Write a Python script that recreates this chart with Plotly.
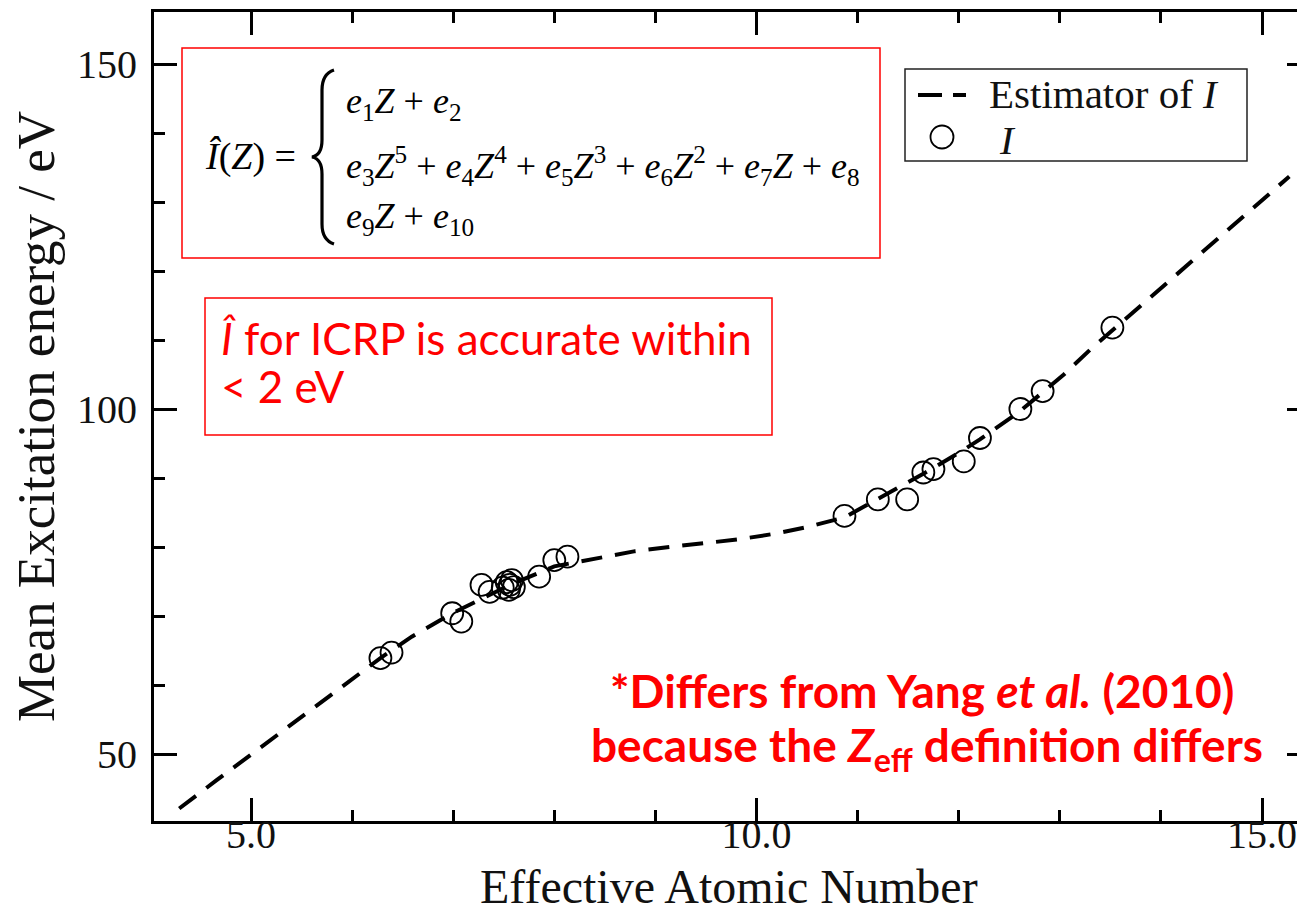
import plotly.graph_objects as go

# ---------------- data ----------------
est_z = [4.29, 4.66, 6.28, 6.59, 6.99, 7.56, 8.00, 8.37, 8.80, 9.14, 9.49, 9.82,
         10.17, 10.50, 10.87, 11.20, 11.65, 12.04, 12.21, 12.60, 12.83, 13.04,
         13.30, 13.52, 15.27]
est_i = [42.1, 46.2, 63.9, 67.0, 70.4, 74.5, 77.2, 78.2, 79.4, 80.0, 80.6, 81.1,
         81.9, 82.9, 84.3, 87.0, 90.6, 94.0, 95.6, 99.6, 102.4, 105.0,
         108.6, 111.4, 133.7]

obs_z = [6.28, 6.39, 6.99, 7.08, 7.28, 7.36, 7.49, 7.53, 7.56, 7.58, 7.60, 7.55,
         7.85, 8.00, 8.13, 10.87, 11.20, 11.49, 11.65, 11.75, 12.05, 12.21,
         12.61, 12.83, 13.52]
obs_i = [63.9, 64.7, 70.4, 69.2, 74.5, 73.5, 74.1, 74.9, 74.5, 75.2, 74.2, 73.8,
         75.7, 78.1, 78.6, 84.5, 86.9, 86.9, 90.8, 91.3, 92.4, 95.8,
         100.0, 102.6, 111.8]

x_ticks = [5, 10, 15]
x_tick_text = ["5.0", "10.0", "15.0"]
y_ticks = [50, 100, 150]
y_tick_text = ["50", "100", "150"]

# ---------------- layout geometry ----------------
W_FIG, H_FIG = 1297, 914
L, R, T, B = 154, 1297, 12, 821          # plot area in pixels
PW, PH = R - L, B - T

def px(x):
    return (x - L) / PW

def py(y):
    return (B - y) / PH

SERIF = "Liberation Serif"
SANS = "Lato"
RED = "#ff0000"

fig = go.Figure()

fig.add_trace(go.Scatter(
    x=est_z, y=est_i, mode="lines", name="Estimator of I",
    line=dict(color="black", width=4, dash="21px,13px"),
    showlegend=False, hoverinfo="skip"))

fig.add_trace(go.Scatter(
    x=obs_z, y=obs_i, mode="markers", name="I",
    marker=dict(symbol="circle-open", size=22, color="black",
                line=dict(width=1.8, color="black")),
    showlegend=False))

# empty trace so that the right-hand y axis (ticks only) is drawn
fig.add_trace(go.Scatter(x=[], y=[], yaxis="y2", showlegend=False))

axis_font = dict(family=SERIF, size=40, color="#111")

fig.update_layout(
    width=W_FIG, height=H_FIG,
    margin=dict(l=L, r=W_FIG - R, t=T, b=H_FIG - B, pad=0, autoexpand=False),
    paper_bgcolor="white", plot_bgcolor="white",
    xaxis=dict(range=[4.0406, 15.346], showgrid=False, zeroline=False,
               automargin=False,
               showline=True, linewidth=3, linecolor="black", mirror="ticks",
               ticks="inside", ticklen=23, tickwidth=3, tickcolor="black",
               tickvals=x_ticks, ticktext=x_tick_text, tickfont=axis_font,
               ticklabelstandoff=-24, ticklabeloverflow="allow",
               minor=dict(dtick=1, tick0=0, ticks="inside", ticklen=11,
                          tickwidth=3, tickcolor="black", showgrid=False)),
    yaxis=dict(range=[40.29, 157.54], showgrid=False, zeroline=False,
               automargin=False,
               showline=True, linewidth=3, linecolor="black",
               ticks="inside", ticklen=23, tickwidth=3, tickcolor="black",
               tickvals=y_ticks, ticktext=y_tick_text, tickfont=axis_font,
               ticklabelstandoff=6,
               minor=dict(dtick=10, tick0=0, ticks="inside", ticklen=11,
                          tickwidth=3, tickcolor="black", showgrid=False),
               title=dict(text="Mean Excitation energy / eV",
                          font=dict(family=SERIF, size=53, color="#111"),
                          standoff=6)),
    yaxis2=dict(range=[40.29, 157.54], overlaying="y", side="right", anchor="x",
                automargin=False,
                showgrid=False, zeroline=False, showline=False,
                ticks="inside", ticklen=10, tickwidth=3, tickcolor="black",
                tickvals=y_ticks, showticklabels=False),
    showlegend=False,
)

shapes = []
annotations = []

def note(text, x, y, font, xanchor="left", yanchor="middle", **kw):
    d = dict(text=text, x=px(x), y=py(y), xref="paper", yref="paper",
             xanchor=xanchor, yanchor=yanchor, showarrow=False, font=font)
    d.update(kw)
    annotations.append(d)

# ---- x axis title (sits at the very bottom, as in the reference) ----
note("Effective Atomic Number", 729, 914, dict(family=SERIF, size=48, color="#111"),
     xanchor="center", yanchor="bottom", borderpad=0)

# ---- formula box ----
shapes.append(dict(type="rect", xref="paper", yref="paper",
                   x0=px(182), x1=px(880), y0=py(48), y1=py(258),
                   line=dict(color=RED, width=1.5)))
# curly brace
pts = [(334, 70), (322, 74), (322, 90), (322, 140), (322, 155), (312, 157),
       (322, 159), (322, 174), (322, 224), (322, 240), (334, 244)]
P = [(px(a), py(b)) for a, b in pts]
path = (f"M {P[0][0]},{P[0][1]} Q {P[1][0]},{P[1][1]} {P[2][0]},{P[2][1]} "
        f"L {P[3][0]},{P[3][1]} Q {P[4][0]},{P[4][1]} {P[5][0]},{P[5][1]} "
        f"Q {P[6][0]},{P[6][1]} {P[7][0]},{P[7][1]} L {P[8][0]},{P[8][1]} "
        f"Q {P[9][0]},{P[9][1]} {P[10][0]},{P[10][1]}")
shapes.append(dict(type="path", xref="paper", yref="paper", path=path,
                   line=dict(color="black", width=3.2)))

ffont = dict(family=SERIF, size=36, color="black")
note("<i>Î</i>(<i>Z</i>) =", 203, 157, dict(family=SERIF, size=38, color="black"))
rows = [
    ("<i>e</i><sub>1</sub><i>Z</i> + <i>e</i><sub>2</sub>", 104),
    ("<i>e</i><sub>3</sub><i>Z</i><sup>5</sup> + <i>e</i><sub>4</sub><i>Z</i><sup>4</sup> + "
     "<i>e</i><sub>5</sub><i>Z</i><sup>3</sup> + <i>e</i><sub>6</sub><i>Z</i><sup>2</sup> + "
     "<i>e</i><sub>7</sub><i>Z</i> + <i>e</i><sub>8</sub>", 166),
    ("<i>e</i><sub>9</sub><i>Z</i> + <i>e</i><sub>10</sub>", 219),
]
for txt, yy in rows:
    note(txt, 344, yy, ffont)

# ---- accuracy box ----
shapes.append(dict(type="rect", xref="paper", yref="paper",
                   x0=px(205), x1=px(772), y0=py(298), y1=py(435),
                   line=dict(color=RED, width=1.5)))
afont = dict(family=SANS, size=44, color=RED)
note("<i>Î</i> for ICRP is accurate within", 219, 338, afont)
note("&lt; 2 eV", 219, 386, afont)

# ---- note ----
nfont = dict(family=SANS, size=46, color=RED, weight="bold")
note("*Differs from Yang <i>et al.</i> (2010)", 922, 690, nfont, xanchor="center")
note("because the <i>Z</i><sub>eff</sub> definition differs", 927, 748, nfont,
     xanchor="center")

# ---- legend (drawn by hand) ----
shapes.append(dict(type="rect", xref="paper", yref="paper",
                   x0=px(905), x1=px(1247), y0=py(69), y1=py(161),
                   line=dict(color="#222", width=1.5), fillcolor="white"))
shapes.append(dict(type="line", xref="paper", yref="paper",
                   x0=px(918), x1=px(966), y0=py(95), y1=py(95),
                   line=dict(color="black", width=4, dash="24px,11px")))
shapes.append(dict(type="circle", xref="paper", yref="paper",
                   x0=px(930.5), x1=px(953.5), y0=py(125.5), y1=py(148.5),
                   line=dict(color="black", width=1.8)))
lfont = dict(family=SERIF, size=41, color="#111")
note("Estimator of <i>I</i>", 987, 94.5, lfont)
note("<i>I</i>", 997, 140, lfont)

fig.update_layout(shapes=shapes, annotations=annotations)

fig.write_html("out.html")
